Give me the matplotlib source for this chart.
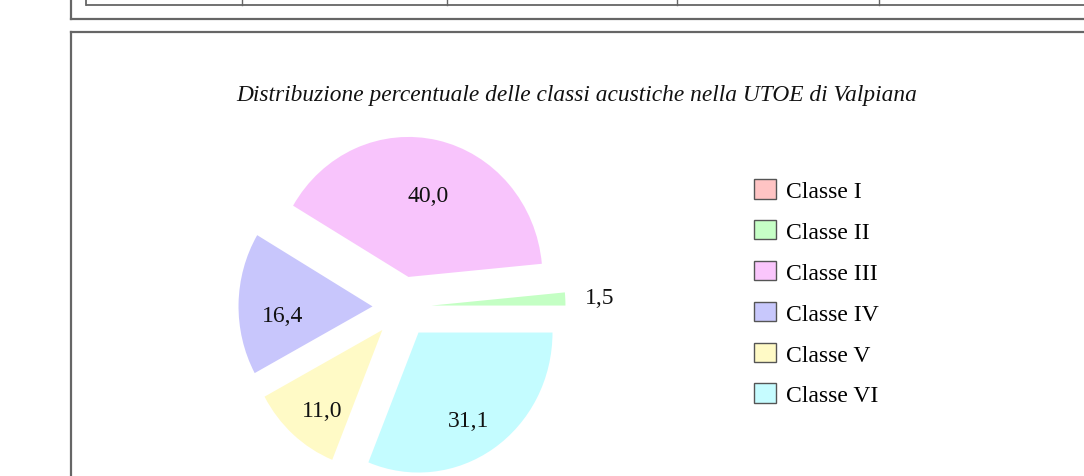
import math
import matplotlib
matplotlib.use("Agg")
import matplotlib.pyplot as plt
from matplotlib.patches import Patch

# ---- data ----
categories = ["Classe I", "Classe II", "Classe III", "Classe IV", "Classe V", "Classe VI"]
values = [0.0, 1.5, 40.0, 16.4, 11.0, 31.1]
colors = ["#FFC4C4", "#C4FFC4", "#F8C4FC", "#C8C6FC", "#FFFAC6", "#C4FCFF"]
legend_colors = ["#FFC4C4", "#C6FFC6", "#FAC6FC", "#C8C8FC", "#FFFAC6", "#C6FCFF"]
title = "Distribuzione percentuale delle classi acustiche nella UTOE di Valpiana"

W, H = 1084, 477
plt.rcParams["font.family"] = ["Liberation Serif", "DejaVu Serif"]

fig = plt.figure(figsize=(W / 100, H / 100), dpi=100)
fig.patch.set_facecolor("white")

# background axes in pixel coordinates for the document frame lines
bg = fig.add_axes([0, 0, 1, 1])
bg.set_xlim(0, W)
bg.set_ylim(H, 0)
bg.axis("off")
lc = "#666666"
lw = 1.6
# table remnant at the top
bg.plot([86, W], [6, 6], color=lc, lw=1.3, solid_capstyle="butt")
for x in [86, 242, 447, 677, 879]:
    bg.plot([x, x], [0, 6], color=lc, lw=1.0 if x != 86 else 1.3)
# previous box
bg.plot([71, 71], [0, 20], color=lc, lw=lw)
bg.plot([71, W], [20, 20], color=lc, lw=lw)
# current box
bg.plot([71, W], [33, 33], color=lc, lw=lw)
bg.plot([71, 71], [33, H], color=lc, lw=lw)

bg.text(577, 96, title, ha="center", va="center", fontsize=16.85,
        style="italic", color="#111111")

# pie axes: centre at (402, 308) px, radius ~134 px horiz, 140 px vert
cx, cy = 402, 308
rx, ry = 134, 140
lim = 1.6
aw, ah = 2 * lim * rx, 2 * lim * ry
ax = fig.add_axes([(cx - aw / 2) / W, (H - cy - ah / 2) / H, aw / W, ah / H])
explode = [0.22] * len(values)


def fmt(p):
    return "" if p < 0.05 else f"{p:.1f}".replace(".", ",")


wedges, texts, autotexts = ax.pie(values, colors=colors, explode=explode,
                                  startangle=0, counterclock=True,
                                  autopct=fmt, pctdistance=0.67,
                                  wedgeprops=dict(linewidth=0),
                                  textprops=dict(fontsize=17, color="#111111"))
ax.set_aspect("auto")
ax.set_xlim(-lim, lim)
ax.set_ylim(-lim, lim)

for w, t, v in zip(wedges, autotexts, values):
    t.set_va("top")
    if 0 < v < 5:
        th = math.radians((w.theta1 + w.theta2) / 2)
        t.set_position((1.48 * math.cos(th), 1.48 * math.sin(th)))
        t.set_va("center")

handles = [Patch(facecolor=c, edgecolor="#555555", linewidth=1.0) for c in legend_colors]
fig.legend(handles, categories, loc="upper left",
           bbox_to_anchor=(754 / W, 1 - 180 / H), frameon=False,
           fontsize=17, borderpad=0, borderaxespad=0,
           handlelength=0.93, handleheight=0.9, handletextpad=0.42,
           labelspacing=0.76)

fig.savefig("out.png", dpi=100)
